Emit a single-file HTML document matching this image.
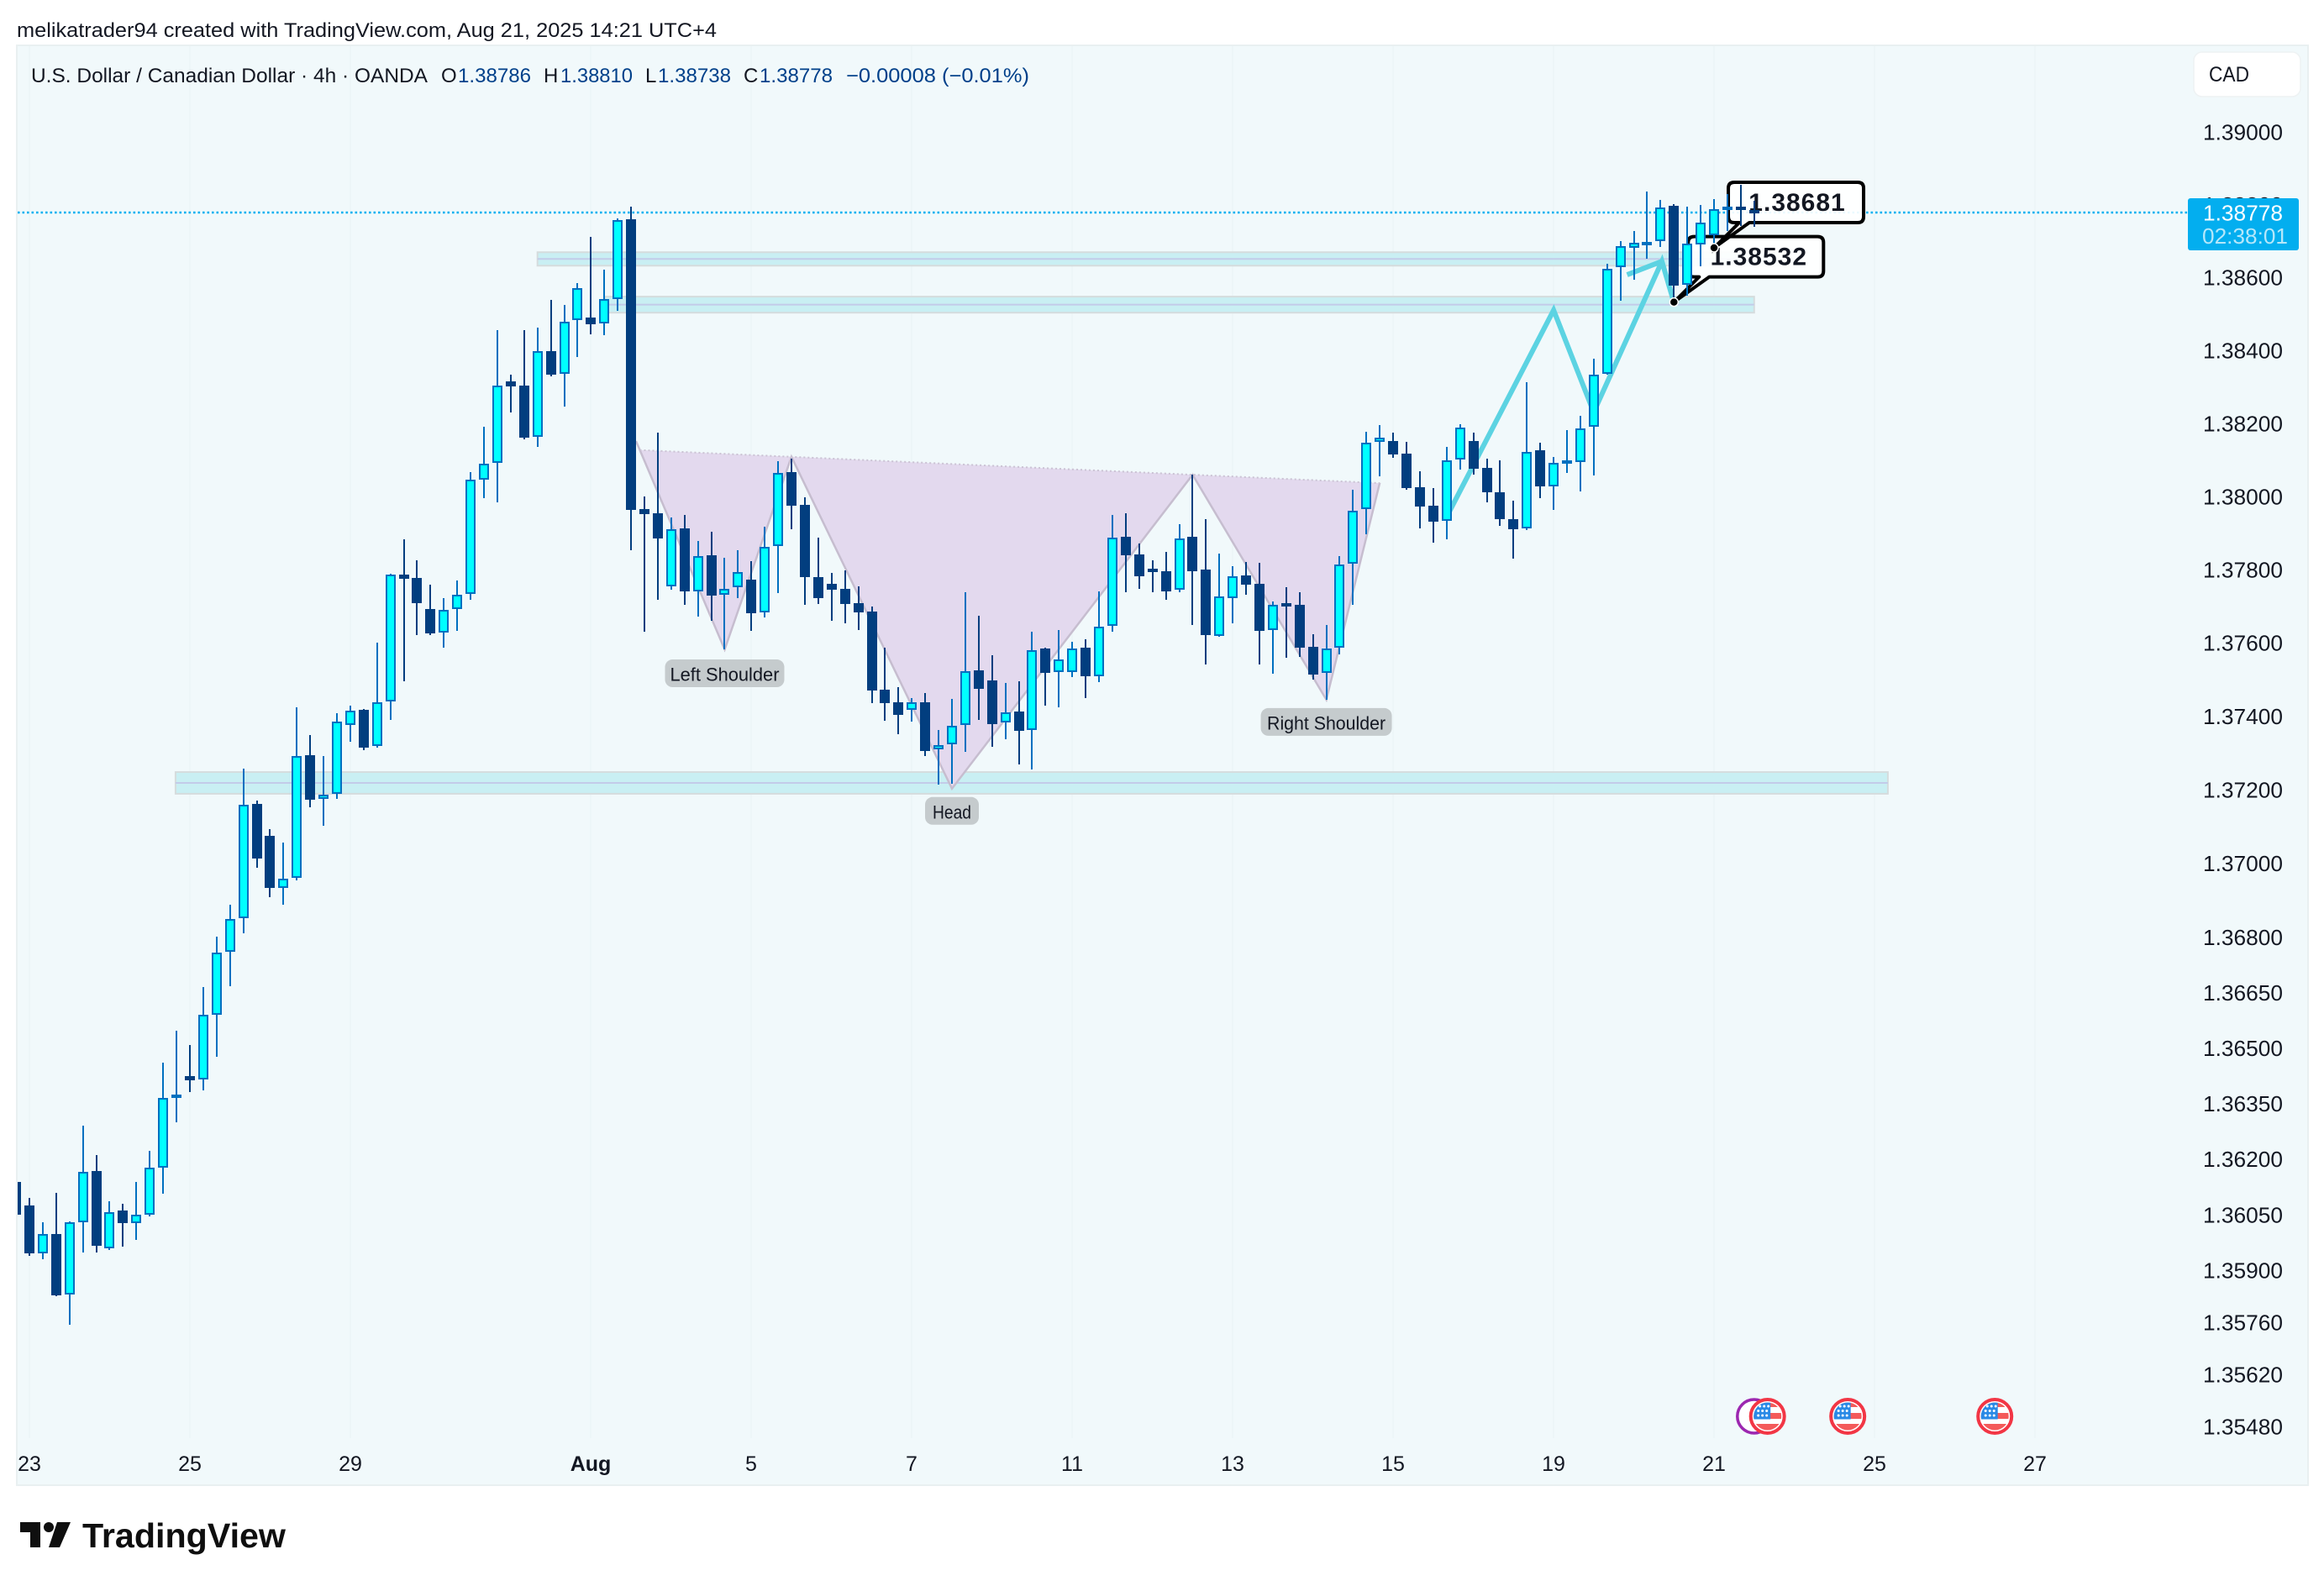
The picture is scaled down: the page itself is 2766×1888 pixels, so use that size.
<!DOCTYPE html>
<html lang="en">
<head>
<meta charset="utf-8">
<title>USDCAD 4h chart</title>
<style>
  html, body { margin: 0; padding: 0; background: #fff; }
  body { width: 2766px; height: 1888px; overflow: hidden; }
  svg { display: block; font-family: "Liberation Sans", sans-serif; }
</style>
</head>
<body>
<svg id="chart" xmlns="http://www.w3.org/2000/svg" width="2766" height="1888" viewBox="0 0 2766 1888">
  <defs>
    <clipPath id="pane-clip"><rect x="21" y="55" width="2726" height="1657"/></clipPath>
    <clipPath id="flag-clip"><circle cx="0" cy="0" r="16.5"/></clipPath>
  </defs>
  <rect x="0" y="0" width="2766" height="1888" fill="#ffffff"/>
  <text x="20" y="44" font-size="24" fill="#131722" textLength="833" lengthAdjust="spacingAndGlyphs">melikatrader94 created with TradingView.com, Aug 21, 2025 14:21 UTC+4</text>
  <rect x="20" y="54" width="2727" height="1714" fill="#f1f9fb" stroke="#e9f0f1" stroke-width="2"/>
  <g id="grid-layer"></g>
  <g id="drawing-layer" clip-path="url(#pane-clip)"></g>
  <g id="candle-layer" clip-path="url(#pane-clip)"></g>
  <g id="dot-layer"></g>
  <g id="label-layer"></g>
  <g id="event-layer"></g>
  <g id="axis-layer"></g>

  <g font-size="24">
    <text x="37" y="98" fill="#131722" textLength="472" lengthAdjust="spacingAndGlyphs">U.S. Dollar / Canadian Dollar · 4h · OANDA</text>
    <text x="525" y="98" fill="#131722">O</text>
    <text x="545" y="98" fill="#00408a" textLength="87" lengthAdjust="spacingAndGlyphs">1.38786</text>
    <text x="647" y="98" fill="#131722">H</text>
    <text x="667" y="98" fill="#00408a" textLength="86" lengthAdjust="spacingAndGlyphs">1.38810</text>
    <text x="768" y="98" fill="#131722">L</text>
    <text x="783" y="98" fill="#00408a" textLength="87" lengthAdjust="spacingAndGlyphs">1.38738</text>
    <text x="885" y="98" fill="#131722">C</text>
    <text x="904" y="98" fill="#00408a" textLength="87" lengthAdjust="spacingAndGlyphs">1.38778</text>
    <text x="1007" y="98" fill="#00408a" textLength="218" lengthAdjust="spacingAndGlyphs">−0.00008 (−0.01%)</text>
  </g>

  <g>
    <rect x="2611" y="62" width="127" height="53" rx="10" fill="#ffffff" stroke="#eef2f3" stroke-width="1.5"/>
    <text x="2629" y="97" font-size="25" fill="#131722" textLength="48" lengthAdjust="spacingAndGlyphs">CAD</text>
  </g>

  <g>
    <path d="M24 1812H48V1842H36V1824H24Z" fill="#0f0f0f"/>
    <circle cx="58" cy="1818" r="6" fill="#0f0f0f"/>
    <path d="M68 1812H84L71 1842H58Z" fill="#0f0f0f"/>
    <text x="98" y="1842" font-size="41" font-weight="700" fill="#0f0f0f" textLength="242" lengthAdjust="spacingAndGlyphs">TradingView</text>
  </g>
</svg>
<script>
// ---- chart data ----
const opens = [
1.36138,1.36075,1.35945,1.35997,1.35834,1.36029,1.36168,1.35959,1.36061,1.36027,
1.36050,1.36177,1.36365,1.36424,1.36415,1.36590,1.36760,1.36851,1.37161,1.37075,
1.36933,1.36960,1.37294,1.37175,1.37189,1.37376,1.37417,1.37319,1.37440,1.37787,
1.37777,1.37692,1.37628,1.37692,1.37733,1.38045,1.38092,1.38315,1.38303,1.38163,
1.38398,1.38336,1.38483,1.38490,1.38474,1.38540,1.38759,1.37965,1.37954,1.37754,
1.37912,1.37740,1.37839,1.37731,1.37751,1.37772,1.37683,1.37864,1.38066,1.37977,
1.37779,1.37761,1.37747,1.37708,1.37685,1.37472,1.37438,1.37417,1.37438,1.37310,
1.37324,1.37376,1.37525,1.37497,1.37383,1.37413,1.37363,1.37584,1.37520,1.37520,
1.37586,1.37509,1.37646,1.37889,1.37841,1.37802,1.37795,1.37744,1.37889,1.37800,
1.37618,1.37722,1.37784,1.37761,1.37635,1.37708,1.37703,1.37589,1.37518,1.37586,
1.37816,1.37965,1.38149,1.38152,1.38117,1.38025,1.37974,1.37933,1.38101,1.38152,
1.38078,1.38011,1.37938,1.37912,1.38126,1.38027,1.38092,1.38094,1.38191,1.38336,
1.38628,1.38681,1.38692,1.38699,1.38797,1.38580,1.38690,1.38715,1.38785,1.38794,
1.38786];
const highs = [
1.36154,1.36095,1.36029,1.36109,1.36031,1.36290,1.36211,1.36086,1.36079,1.36138,
1.36222,1.36460,1.36547,1.36508,1.36665,1.36801,1.36887,1.37258,1.37171,1.37093,
1.37056,1.37424,1.37349,1.37292,1.37408,1.37429,1.37420,1.37600,1.37789,1.37882,
1.37825,1.37758,1.37722,1.37770,1.38066,1.38191,1.38455,1.38333,1.38455,1.38462,
1.38538,1.38524,1.38584,1.38711,1.38621,1.38761,1.38794,1.38000,1.38175,1.37942,
1.37949,1.37878,1.37903,1.37832,1.37852,1.37823,1.37917,1.38096,1.38103,1.37997,
1.37887,1.37790,1.37797,1.37754,1.37699,1.37586,1.37479,1.37449,1.37463,1.37363,
1.37447,1.37738,1.37673,1.37565,1.37490,1.37495,1.37630,1.37586,1.37635,1.37602,
1.37609,1.37740,1.37949,1.37954,1.37871,1.37825,1.37848,1.37924,1.38059,1.37938,
1.37843,1.37809,1.37820,1.37818,1.37712,1.37751,1.37738,1.37623,1.37648,1.37836,
1.38018,1.38177,1.38195,1.38175,1.38149,1.38069,1.38023,1.38135,1.38198,1.38175,
1.38103,1.38099,1.37988,1.38312,1.38147,1.38108,1.38181,1.38221,1.38377,1.38637,
1.38699,1.38727,1.38835,1.38812,1.38801,1.38794,1.38799,1.38815,1.38828,1.38854,
1.38810];
const lows = [
1.36036,1.35938,1.35929,1.35830,1.35753,1.35947,1.35947,1.35954,1.35963,1.35981,
1.36045,1.36106,1.36299,1.36381,1.36385,1.36476,1.36667,1.36810,1.36988,1.36908,
1.36887,1.36954,1.37153,1.37102,1.37175,1.37330,1.37308,1.37315,1.37390,1.37495,
1.37621,1.37621,1.37586,1.37632,1.37717,1.37995,1.37984,1.38230,1.38156,1.38135,
1.38329,1.38246,1.38382,1.38444,1.38441,1.38508,1.37852,1.37630,1.37717,1.37744,
1.37703,1.37671,1.37660,1.37582,1.37722,1.37632,1.37669,1.37735,1.37910,1.37703,
1.37705,1.37660,1.37653,1.37635,1.37436,1.37388,1.37351,1.37385,1.37292,1.37214,
1.37216,1.37303,1.37390,1.37317,1.37338,1.37269,1.37255,1.37429,1.37424,1.37506,
1.37449,1.37493,1.37630,1.37738,1.37747,1.37738,1.37717,1.37738,1.37648,1.37541,
1.37616,1.37653,1.37731,1.37541,1.37515,1.37559,1.37561,1.37499,1.37445,1.37568,
1.37703,1.37896,1.38055,1.38105,1.38018,1.37912,1.37873,1.37882,1.38073,1.38060,
1.37984,1.37919,1.37830,1.37907,1.37995,1.37963,1.38064,1.38013,1.38057,1.38333,
1.38536,1.38593,1.38651,1.38683,1.38531,1.38549,1.38630,1.38680,1.38727,1.38741,
1.38738];
const closes = [
1.36050,1.35945,1.35997,1.35832,1.36029,1.36165,1.35966,1.36056,1.36027,1.36050,
1.36177,1.36365,1.36374,1.36413,1.36590,1.36759,1.36849,1.37159,1.37013,1.36933,
1.36958,1.37292,1.37173,1.37187,1.37385,1.37415,1.37315,1.37438,1.37787,1.37775,
1.37708,1.37625,1.37689,1.37731,1.38045,1.38089,1.38303,1.38301,1.38161,1.38398,
1.38333,1.38478,1.38570,1.38471,1.38540,1.38757,1.37963,1.37951,1.37885,1.37910,
1.37740,1.37836,1.37728,1.37747,1.37792,1.37680,1.37862,1.38064,1.37974,1.37779,
1.37722,1.37744,1.37705,1.37683,1.37470,1.37436,1.37404,1.37438,1.37306,1.37322,
1.37374,1.37522,1.37474,1.37379,1.37410,1.37360,1.37580,1.37518,1.37554,1.37584,
1.37509,1.37644,1.37887,1.37839,1.37781,1.37793,1.37740,1.37885,1.37795,1.37621,
1.37726,1.37781,1.37758,1.37632,1.37703,1.37701,1.37586,1.37513,1.37584,1.37813,
1.37961,1.38147,1.38161,1.38115,1.38023,1.37972,1.37931,1.38099,1.38188,1.38076,
1.38011,1.37938,1.37910,1.38122,1.38027,1.38092,1.38099,1.38186,1.38333,1.38623,
1.38685,1.38694,1.38697,1.38791,1.38577,1.38692,1.38750,1.38787,1.38794,1.38785,
1.38778];
const firstBar = -1;
const priceTicks = [1.39,1.388,1.386,1.384,1.382,1.38,1.378,1.376,1.374,1.372,1.37,1.368,1.3665,1.365,1.3635,1.362,1.3605,1.359,1.3576,1.3562,1.3548];
const dateLabels = ["23","25","29","Aug","5","7","11","13","15","19","21","25","27"];
const dateBars = [0,12,24,42,54,66,78,90,102,114,126,138,150];
const lastPrice = 1.38778;
const zoneTops = [1.37248,1.38669,1.38547];
const zoneBottoms = [1.37189,1.38632,1.38503];
const zoneStarts = [10.93,38,43.05];
const zoneEnds = [139,130.8,129];
const patternBars = [45.37,52,57,69,87,97,101];
const patternPrices = [1.38151,1.37582,1.38108,1.37203,1.38059,1.37445,1.38037];
const teal1Bars = [106,114,117,122.1,123];
const teal1Prices = [1.37944,1.38510,1.38230,1.38644,1.38531];
const teal2Bars = [119.5,122.1];
const teal2Prices = [1.38607,1.38644];
const calloutBars = [123,126];
const calloutPrices = [1.38532,1.38681];
const usEventBars = [130,136,147];
const otherEventBars = [129];

// ---- axis functions ----
function xOf(bar) { return 35 + 15.913 * bar; }
function yOf(price) { return 157 + 60080 * Math.log(1.39 / price); }

const NS = 'http://www.w3.org/2000/svg';
function make(parent, tag, attrs, text) {
  const el = document.createElementNS(NS, tag);
  for (const k in attrs) el.setAttribute(k, attrs[k]);
  if (text !== undefined) el.textContent = text;
  parent.appendChild(el);
  return el;
}
const gridLayer = document.getElementById('grid-layer');
const drawLayer = document.getElementById('drawing-layer');
const candleLayer = document.getElementById('candle-layer');
const dotLayer = document.getElementById('dot-layer');
const labelLayer = document.getElementById('label-layer');
const eventLayer = document.getElementById('event-layer');
const axisLayer = document.getElementById('axis-layer');

// grid + date axis
dateBars.forEach(function (bar, i) {
  const x = Math.round(xOf(bar));
  const line = make(gridLayer, 'rect', {x: x - 1, y: 55, width: 2, height: 1657, fill: '#edf6f8'});
  
  
  const isMonth = dateLabels[i] === 'Aug';
  const t = make(axisLayer, 'text', {x: x, y: 1751, 'font-size': 25, 'text-anchor': 'middle', fill: '#131722', 'font-weight': isMonth ? 700 : 400}, dateLabels[i]);
  
  
});

// zones
zoneTops.forEach(function (top, i) {
  const x1 = xOf(zoneStarts[i]), x2 = xOf(zoneEnds[i]);
  const y1 = yOf(top), y2 = yOf(zoneBottoms[i]);
  const r = make(drawLayer, 'rect', {x: x1, y: y1, width: x2 - x1, height: y2 - y1, fill: '#c9eff3', stroke: '#d5dcdd', 'stroke-width': 2});
  
  
  const m = make(drawLayer, 'line', {x1: x1, x2: x2, y1: (y1 + y2) / 2, y2: (y1 + y2) / 2, stroke: '#c3cbe9', 'stroke-width': 2});
  
  
});

// head and shoulders pattern
const P = patternBars.map(function (b, i) { return [xOf(b), yOf(patternPrices[i])]; });
const slope = (P[4][1] - P[2][1]) / (P[4][0] - P[2][0]);
function neckY(x) { return P[2][1] + slope * (x - P[2][0]); }
const abSlope = (P[1][1] - P[0][1]) / (P[1][0] - P[0][0]);
const nx = (P[0][1] - abSlope * P[0][0] - P[2][1] + slope * P[2][0]) / (slope - abSlope);
const N0 = [nx, neckY(nx)];
const N1 = [P[6][0], neckY(P[6][0])];
function pts(a) { return a.map(function (p) { return p[0].toFixed(1) + ',' + p[1].toFixed(1); }).join(' '); }
[[N0, P[1], P[2]], [P[2], P[3], P[4]], [P[4], P[5], N1]].forEach(function (tri) {
  const f = make(drawLayer, 'polygon', {points: pts(tri), fill: '#e3d9ee'});
  
  
});
const hs = make(drawLayer, 'polyline', {points: pts(P), fill: 'none', stroke: '#c6bdcf', 'stroke-width': 2.5, 'stroke-linejoin': 'miter'});


const neck = make(drawLayer, 'line', {x1: N0[0], y1: N0[1], x2: N1[0], y2: N1[1], stroke: '#cbc3d4', 'stroke-width': 2, 'stroke-dasharray': '2 3'});



// teal projected path
function tealPoints(bars, prices) {
  return bars.map(function (b, i) { return xOf(b).toFixed(1) + ',' + yOf(prices[i]).toFixed(1); }).join(' ');
}
const teal1 = make(drawLayer, 'polyline', {points: tealPoints(teal1Bars, teal1Prices), fill: 'none', stroke: '#5cd3e2', 'stroke-width': 6, 'stroke-linejoin': 'miter'});


const teal2 = make(drawLayer, 'polyline', {points: tealPoints(teal2Bars, teal2Prices), fill: 'none', stroke: '#5cd3e2', 'stroke-width': 6});



// last price line
const lastY = yOf(lastPrice);
const priceLine = make(drawLayer, 'line', {x1: 21, x2: 2604, y1: lastY, y2: lastY, stroke: '#00b0f0', 'stroke-width': 2.5, 'stroke-dasharray': '2.6 2.9'});



// callouts
calloutBars.forEach(function (bar, i) {
  const ax = xOf(bar), ay = yOf(calloutPrices[i]);
  const l = ax + 17, r = ax + 178, t = ay - 78, b = ay - 30, c = 7;
  const d = 'M' + (l + c) + ' ' + t + 'H' + (r - c) + 'Q' + r + ' ' + t + ' ' + r + ' ' + (t + c) +
    'V' + (b - c) + 'Q' + r + ' ' + b + ' ' + (r - c) + ' ' + b + 'H' + (ax + 42) +
    'L' + ax + ' ' + ay + 'L' + (ax + 30) + ' ' + b + 'H' + (l + c) +
    'Q' + l + ' ' + b + ' ' + l + ' ' + (b - c) + 'V' + (t + c) + 'Q' + l + ' ' + t + ' ' + (l + c) + ' ' + t + 'Z';
  const box = make(drawLayer, 'path', {d: d, fill: 'rgba(255,255,255,0.92)', stroke: '#000000', 'stroke-width': 4, 'stroke-linejoin': 'round'});
  
  
  const txt = make(drawLayer, 'text', {x: ax + 99 - (i === 0 ? -2 : 0), y: ay - 44, 'font-size': 30, 'font-weight': 700, 'text-anchor': 'middle', fill: '#131722', 'letter-spacing': 1}, calloutPrices[i].toFixed(5));
  
  
  const dot = make(dotLayer, 'circle', {cx: ax, cy: ay, r: 5, fill: '#000000', stroke: '#ffffff', 'stroke-width': 1.5});
  
  
});

// candles
const DARK = '#023e7f', LIGHT_EDGE = '#0070c0', LIGHT_FILL = '#00ffff';
opens.forEach(function (open, k) {
  const bar = firstBar + k;
  const x = Math.round(xOf(bar));
  const up = closes[k] >= open;
  const top = Math.round(yOf(Math.max(open, closes[k])));
  const bot = Math.round(yOf(Math.min(open, closes[k])));
  const hi = Math.round(yOf(highs[k]));
  const lo = Math.round(yOf(lows[k]));
  const g = make(candleLayer, 'g', {});
  
  
  const wick = make(g, 'rect', {x: x - 1, y: hi, width: 2, height: Math.max(lo - hi, 1), fill: up ? LIGHT_EDGE : DARK});
  
  
  const h = Math.max(bot - top, 4);
  let body;
  if (up) {
    body = make(g, 'rect', {x: x - 5, y: top + 1, width: 10, height: Math.max(h - 2, 1), fill: LIGHT_FILL, stroke: LIGHT_EDGE, 'stroke-width': 2});
  } else {
    body = make(g, 'rect', {x: x - 6, y: top, width: 12, height: h, fill: DARK});
  }
  
  
});

// pattern labels
const labelTexts = ["Left Shoulder", "Head", "Right Shoulder"];
const labelBars = [52, 69, 97];
const labelOffsets = [12, 10, 10];
const labelWidths = [142, 64, 156];
const labelTextWidths = [130, 46, 141];
const labelAnchorIdx = [1, 3, 5];
labelTexts.forEach(function (s, i) {
  const cx = xOf(labelBars[i]);
  const top = P[labelAnchorIdx[i]][1] + labelOffsets[i];
  const r = make(labelLayer, 'rect', {x: cx - labelWidths[i] / 2, y: top, width: labelWidths[i], height: 33, rx: 9, fill: '#c5cbcd'});
  
  
  const t = make(labelLayer, 'text', {x: cx, y: top + 25.5, 'font-size': 22, 'text-anchor': 'middle', fill: '#131722', textLength: labelTextWidths[i], lengthAdjust: 'spacingAndGlyphs'}, s);
  
  
});

// event markers
const EVENT_Y = 1686;
otherEventBars.forEach(function (bar) {
  const g = make(eventLayer, 'g', {transform: 'translate(' + xOf(bar) + ',' + EVENT_Y + ')'});
  
  
  const c = make(g, 'circle', {r: 20, fill: '#ffffff', stroke: '#9c27b0', 'stroke-width': 3.5});
  
  
});
usEventBars.forEach(function (bar) {
  const g = make(eventLayer, 'g', {transform: 'translate(' + xOf(bar) + ',' + EVENT_Y + ')'});
  
  
  const ring = make(g, 'circle', {r: 20, fill: '#ffffff', stroke: '#f23645', 'stroke-width': 4});
  
  
  const flag = make(g, 'g', {'clip-path': 'url(#flag-clip)'});
  
  
  make(flag, 'rect', {x: -17, y: -16.5, width: 34, height: 5.5, fill: '#f45a5a'});
  make(flag, 'rect', {x: -17, y: -4, width: 34, height: 7, fill: '#f45a5a'});
  make(flag, 'rect', {x: -17, y: 9, width: 34, height: 8, fill: '#f45a5a'});
  make(flag, 'rect', {x: -17, y: -17, width: 20.5, height: 20.5, fill: '#2a8ae6'});
  [-12, -6.5, -1].forEach(function (sy, row) {
    [-11, -6, -1].forEach(function (sx) {
      make(flag, 'circle', {cx: sx + (row === 0 ? 2 : 0), cy: sy, r: 1.5, fill: '#ffffff'});
    });
  });
});

// price axis
priceTicks.forEach(function (p) {
  const t = make(axisLayer, 'text', {x: 2622, y: yOf(p) + 9.5, 'font-size': 26, fill: '#131722', textLength: 95, lengthAdjust: 'spacingAndGlyphs'}, p.toFixed(5));
  
  
});
const tag = make(axisLayer, 'rect', {x: 2604, y: lastY - 17, width: 132, height: 62, rx: 3, fill: '#03aeef'});


const tagPrice = make(axisLayer, 'text', {x: 2622, y: lastY + 9.5, 'font-size': 26, fill: '#ffffff', textLength: 95, lengthAdjust: 'spacingAndGlyphs'}, lastPrice.toFixed(5));


const tagTime = make(axisLayer, 'text', {x: 2621, y: lastY + 37, 'font-size': 26, fill: '#b5e7fa', textLength: 102, lengthAdjust: 'spacingAndGlyphs'}, '02:38:01');


</script>
</body>
</html>
